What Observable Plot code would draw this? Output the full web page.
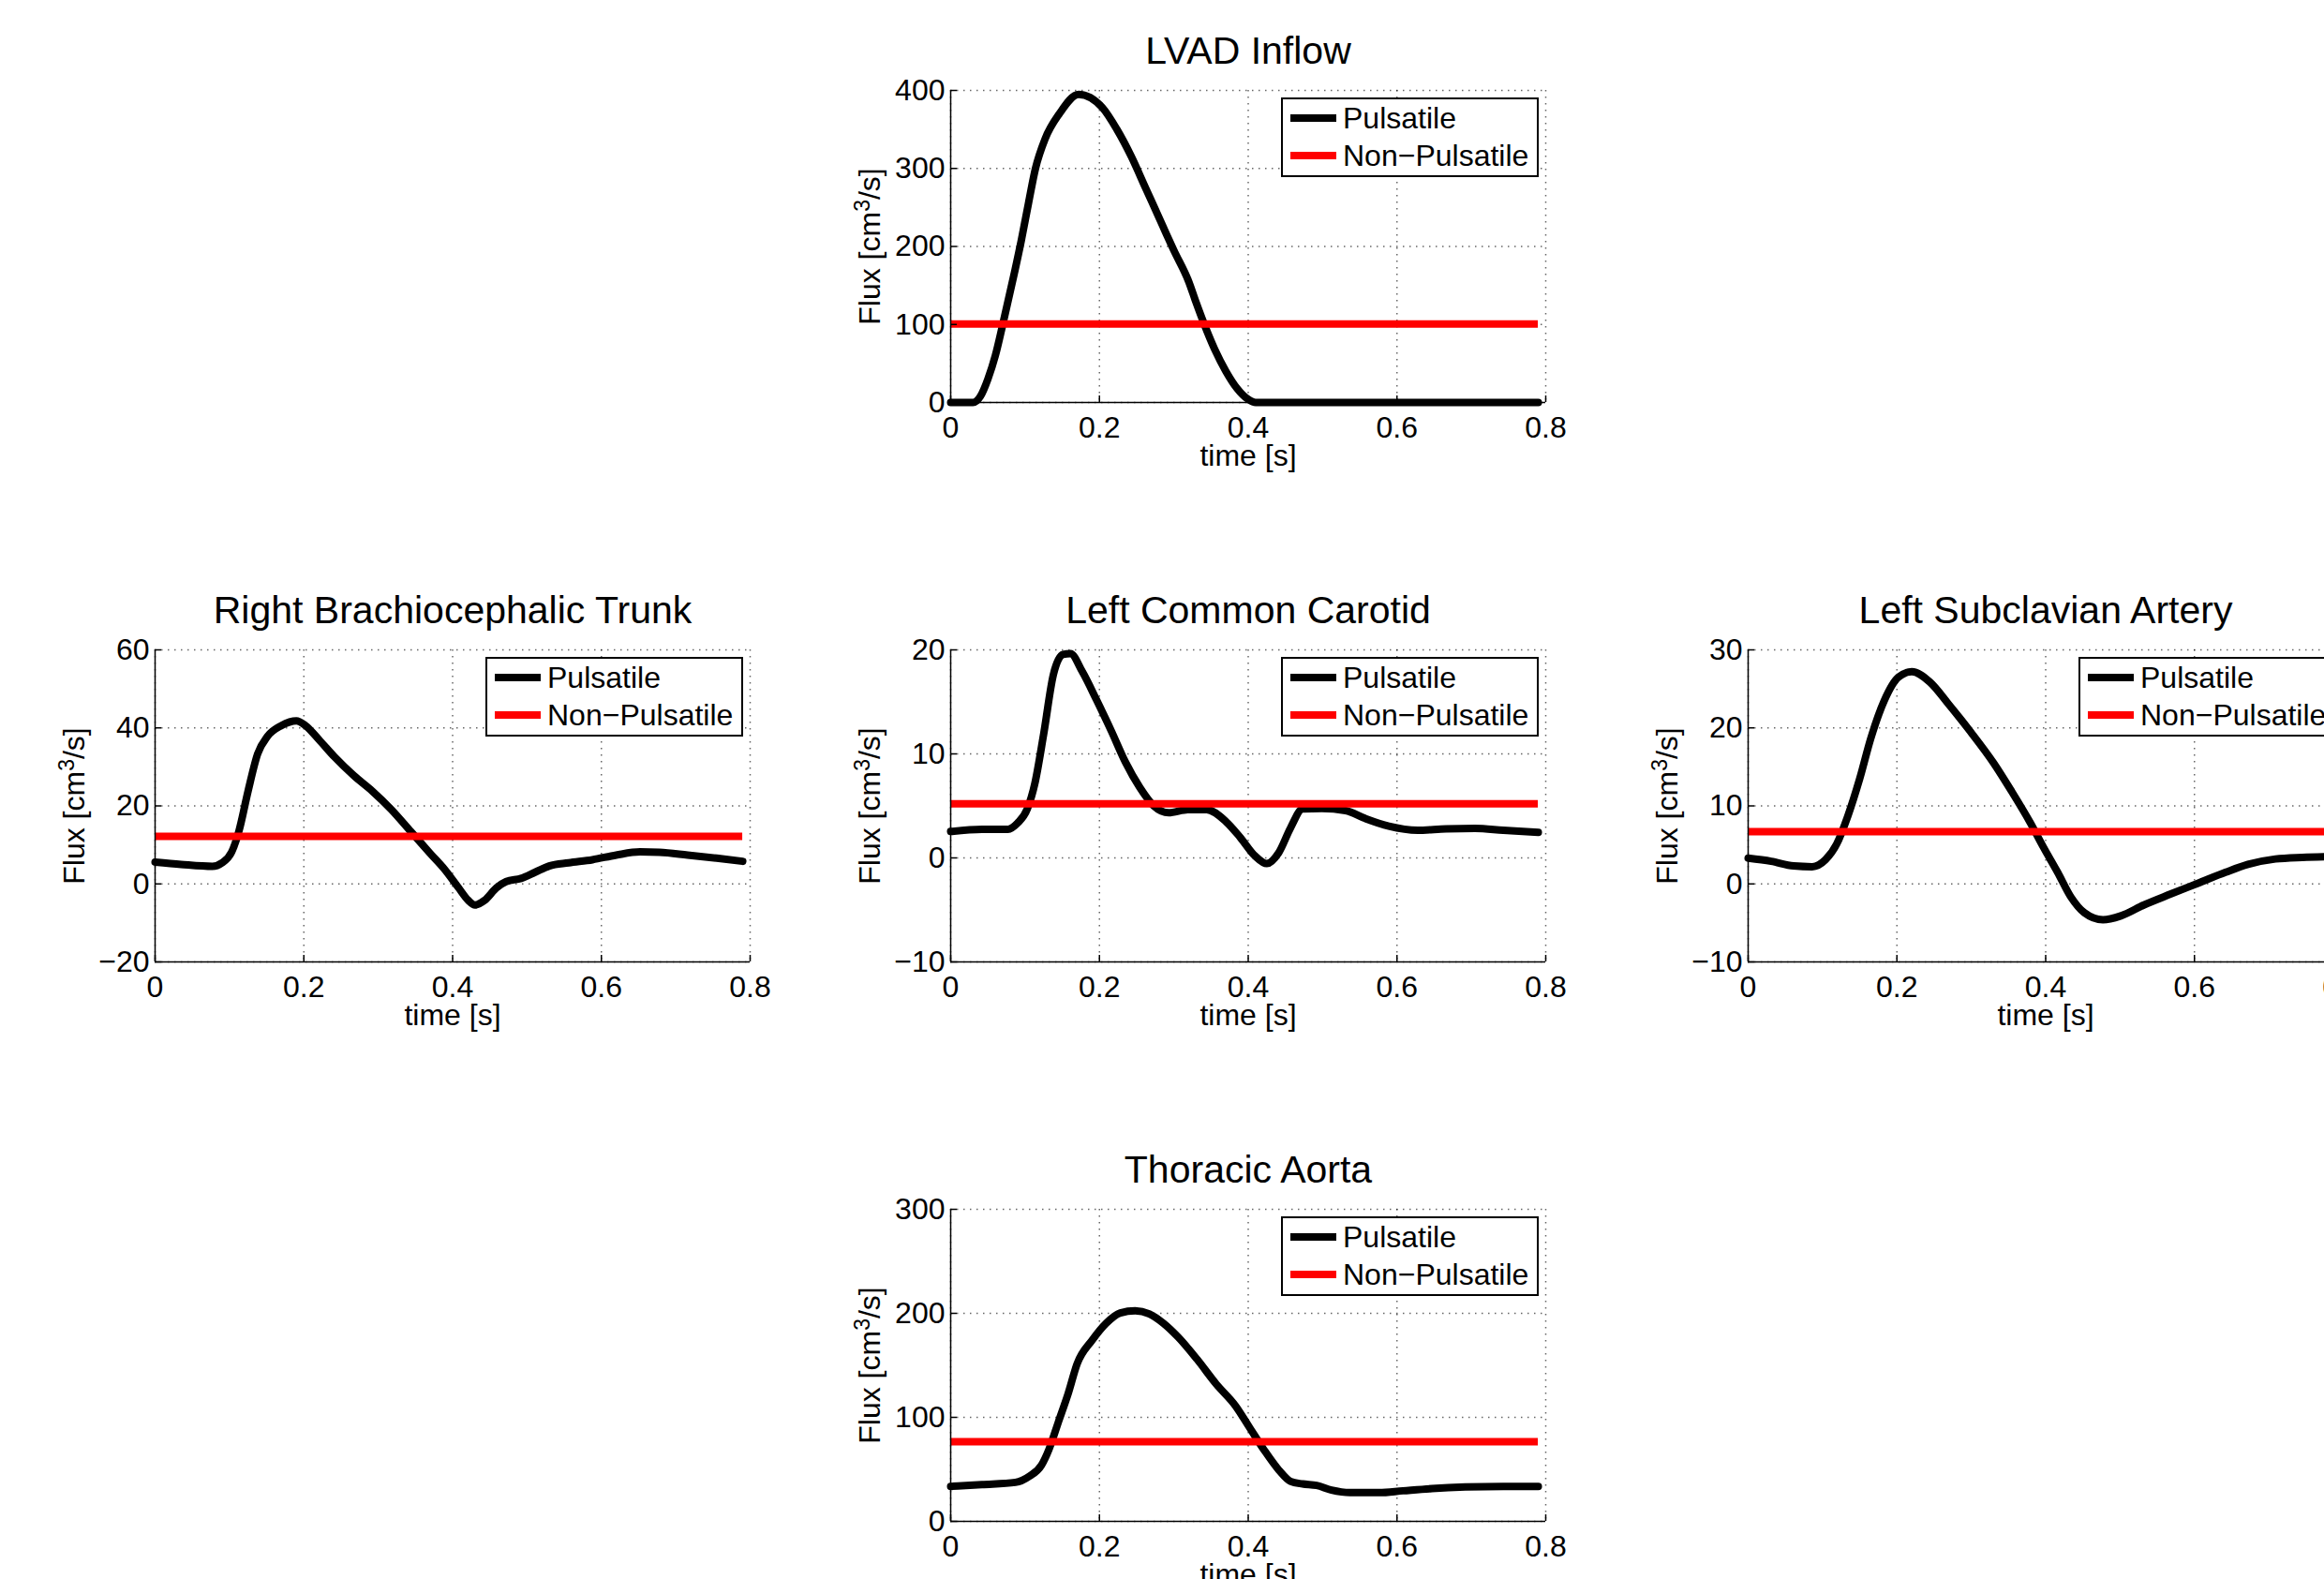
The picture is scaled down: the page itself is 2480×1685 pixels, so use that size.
<!DOCTYPE html>
<html><head><meta charset="utf-8">
<script src="https://cdn.jsdelivr.net/npm/d3@7"></script>
<script src="https://cdn.jsdelivr.net/npm/@observablehq/plot@0.6"></script>
<style>
body{margin:0;background:#fff;}
#page{position:relative;width:2480px;height:1685px;overflow:hidden;background:#fff;font-family:"Liberation Sans",Arial,sans-serif;}
.panel{position:absolute;}
.panel svg{max-width:none !important;}
.legend{position:absolute;border:2px solid #000;background:#fff;box-sizing:border-box;}
.legend .row{position:absolute;left:0;height:40px;display:flex;align-items:center;font-size:32px;color:#000;white-space:nowrap;}
.legend .row svg{margin-left:8px;margin-right:7px;}
</style>
</head><body><div id="page"></div>
<script>
// ---------- data ----------
const timeTicks = [0, 0.2, 0.4, 0.6, 0.8];
const seriesNames = ["Pulsatile", "Non\u2212Pulsatile"];
const panelTitles = ["LVAD Inflow", "Right Brachiocephalic Trunk", "Left Common Carotid", "Left Subclavian Artery", "Thoracic Aorta"];
const nonPulsatile = [100.5, 12.2, 5.2, 6.7, 76.5];
const tEnd = 0.79;

const lvadT = [0, 0.03, 0.04, 0.05, 0.06, 0.07, 0.0854, 0.095, 0.1047, 0.114, 0.127, 0.146, 0.172, 0.204, 0.2235, 0.243, 0.262, 0.281, 0.300, 0.32, 0.33, 0.341, 0.355, 0.37, 0.385, 0.40, 0.41, 0.79];
const lvadQ = [0, 0, 8, 30, 60, 100, 165, 208, 256, 300, 338, 370, 395, 378, 350, 315, 275, 235, 195, 155, 128, 100, 68, 40, 18, 4, 0, 0];
const lvadYTicks = [0, 100, 200, 300, 400];

const rbtT = [0, 0.035, 0.077, 0.09, 0.103, 0.1125, 0.125, 0.138, 0.151, 0.170, 0.19, 0.202, 0.222, 0.241, 0.267, 0.292, 0.318, 0.344, 0.37, 0.389, 0.408, 0.421, 0.43, 0.443, 0.459, 0.472, 0.492, 0.511, 0.530, 0.556, 0.588, 0.620, 0.652, 0.678, 0.716, 0.755, 0.79];
const rbtQ = [5.6, 5.0, 4.5, 5.4, 8.2, 13.4, 23.8, 33.4, 37.8, 40.6, 41.8, 40.6, 36.6, 32.6, 27.8, 23.8, 19.0, 13.4, 7.8, 3.8, -1.0, -4.2, -5.4, -4.2, -1.0, 0.6, 1.4, 3.0, 4.6, 5.4, 6.2, 7.4, 8.2, 8.1, 7.4, 6.6, 5.8];
const rbtYTicks = [-20, 0, 20, 40, 60];

const lccT = [0, 0.042, 0.077, 0.09, 0.103, 0.113, 0.125, 0.138, 0.151, 0.161, 0.177, 0.196, 0.216, 0.235, 0.254, 0.273, 0.293, 0.319, 0.344, 0.37, 0.389, 0.409, 0.425, 0.441, 0.457, 0.473, 0.499, 0.531, 0.557, 0.589, 0.628, 0.666, 0.705, 0.743, 0.79];
const lccQ = [2.54, 2.75, 2.75, 3.35, 4.7, 7.1, 11.9, 17.6, 19.55, 19.64, 17.9, 15.2, 12.2, 9.2, 6.8, 5.0, 4.34, 4.64, 4.64, 3.5, 2.0, 0.2, -0.55, 0.5, 2.9, 4.7, 4.76, 4.55, 3.8, 3.05, 2.66, 2.8, 2.84, 2.66, 2.45];
const lccYTicks = [-10, 0, 10, 20];

const lsaT = [0, 0.031, 0.061, 0.086, 0.104, 0.119, 0.134, 0.15, 0.165, 0.183, 0.202, 0.22, 0.244, 0.269, 0.299, 0.33, 0.354, 0.379, 0.397, 0.416, 0.434, 0.452, 0.477, 0.501, 0.532, 0.568, 0.605, 0.642, 0.672, 0.709, 0.745, 0.79];
const lsaQ = [3.3, 2.9, 2.3, 2.2, 3.1, 5.1, 8.7, 13.5, 18.7, 23.5, 26.5, 27.2, 25.9, 23.1, 19.5, 15.5, 11.9, 7.9, 4.7, 1.5, -1.7, -3.7, -4.6, -4.1, -2.7, -1.3, 0.1, 1.5, 2.5, 3.2, 3.4, 3.5];
const lsaYTicks = [-10, 0, 10, 20, 30];

const taT = [0, 0.042, 0.087, 0.106, 0.122, 0.132, 0.145, 0.158, 0.170, 0.19, 0.209, 0.228, 0.248, 0.267, 0.286, 0.306, 0.331, 0.357, 0.383, 0.402, 0.421, 0.441, 0.457, 0.473, 0.492, 0.512, 0.537, 0.576, 0.608, 0.647, 0.692, 0.743, 0.79];
const taQ = [33.6, 35.4, 37.5, 43.5, 54, 69, 96, 123, 151.5, 174, 190.5, 200.4, 202.5, 199.5, 190.5, 177, 156, 132, 111, 90, 69, 49.5, 38.4, 36, 34.5, 30, 27.6, 27.6, 29.4, 31.5, 33, 33.6, 33.6];
const taYTicks = [0, 100, 200, 300];

// ---------- layout ----------
const W = 635, H = 333, ML = 120, MR = 30, MT = 80, MB = 95;
const layout = [
  {t: lvadT, q: lvadQ, ticks: lvadYTicks, left: 1014, top: 96},
  {t: rbtT, q: rbtQ, ticks: rbtYTicks, left: 165, top: 693},
  {t: lccT, q: lccQ, ticks: lccYTicks, left: 1014, top: 693},
  {t: lsaT, q: lsaQ, ticks: lsaYTicks, left: 1865, top: 693},
  {t: taT, q: taQ, ticks: taYTicks, left: 1014, top: 1290}
];

const fmt = d => d === 0 ? "0" : (d < 0 ? "\u2212" + Math.abs(d) : String(d));
const font = "'Liberation Sans', Arial, Helvetica, sans-serif";
const page = document.getElementById("page");

layout.forEach((cfg, i) => {
  const yTicks = cfg.ticks;
  const y0 = d3.min(yTicks), y1 = d3.max(yTicks);
  const xTickLen = 0.8 * 7 / W, yTickLen = (y1 - y0) * 7 / H;
  const data = cfg.t.map((t, k) => ({t, q: cfg.q[k]}));
  const grid = {stroke: "#000", strokeOpacity: 0.6, strokeWidth: 1.5, strokeDasharray: "1.5,5.5"};
  const plot = Plot.plot({
    width: ML + W + MR, height: MT + H + MB,
    marginLeft: ML, marginRight: MR, marginTop: MT, marginBottom: MB,
    x: {domain: [0, 0.8]},
    y: {domain: [y0, y1]},
    style: {fontFamily: font, fontSize: "32px", background: "transparent", color: "#000", overflow: "visible", maxWidth: "none"},
    marks: [
      Plot.ruleX(timeTicks, grid),
      Plot.ruleY(yTicks, grid),
      Plot.line(data, {x: "t", y: "q", stroke: "#000", strokeWidth: 8, curve: "monotone-x"}),
      Plot.ruleY([nonPulsatile[i]], {x1: 0, x2: tEnd, stroke: "#ff0000", strokeWidth: 8}),
      Plot.ruleX([0], {stroke: "#000", strokeWidth: 1.5}),
      Plot.ruleY([y0], {stroke: "#000", strokeWidth: 1.5}),
      Plot.ruleX(timeTicks, {y1: y0, y2: y0 + yTickLen, stroke: "#000", strokeWidth: 1.5}),
      Plot.ruleY(yTicks, {x1: 0, x2: xTickLen, stroke: "#000", strokeWidth: 1.5}),
      Plot.axisX({ticks: timeTicks, tickSize: 0, tickPadding: 15, label: null, tickFormat: fmt, fontSize: 32}),
      Plot.axisY({ticks: yTicks, tickSize: 0, tickPadding: 6, label: null, tickFormat: fmt, fontSize: 32}),
      Plot.text([panelTitles[i]], {text: d => d, frameAnchor: "top", lineAnchor: "middle", dy: -42, fontSize: 41}),
      Plot.text(["time [s]"], {text: d => d, frameAnchor: "bottom", lineAnchor: "middle", dy: 57, fontSize: 32}),
      Plot.text(["Flux [cm3/s]"], {text: d => d, frameAnchor: "left", lineAnchor: "middle", textAnchor: "middle", dx: -86, rotate: -90, fontSize: 32})
    ]
  });
  // superscript 3 in the y label
  d3.select(plot).selectAll("text").filter(function() { return this.textContent === "Flux [cm3/s]"; }).each(function() {
    const t = d3.select(this);
    t.text(null);
    t.append("tspan").text("Flux [cm");
    t.append("tspan").attr("dy", "-11").attr("font-size", "23").text("3");
    t.append("tspan").attr("dy", "11").text("/s]");
  });

  const wrap = document.createElement("div");
  wrap.className = "panel";
  wrap.style.left = (cfg.left - ML) + "px";
  wrap.style.top = (cfg.top - MT) + "px";
  wrap.style.width = (ML + W + MR) + "px";
  wrap.style.height = (MT + H + MB) + "px";
  wrap.appendChild(plot);

  const lg = document.createElement("div");
  lg.className = "legend";
  lg.style.left = (ML + W - 7 - 275) + "px";
  lg.style.top = (MT + 8) + "px";
  lg.style.width = "275px";
  lg.style.height = "85px";
  const colors = ["#000", "#ff0000"];
  seriesNames.forEach((name, k) => {
    const row = document.createElement("div");
    row.className = "row";
    row.style.top = (k * 40) + "px";
    row.innerHTML = `<svg width="49" height="10"><line x1="0" x2="49" y1="5" y2="5" stroke="${colors[k]}" stroke-width="8"/></svg><span>${name}</span>`;
    lg.appendChild(row);
  });
  wrap.appendChild(lg);
  page.appendChild(wrap);
});
</script>
</body></html>
